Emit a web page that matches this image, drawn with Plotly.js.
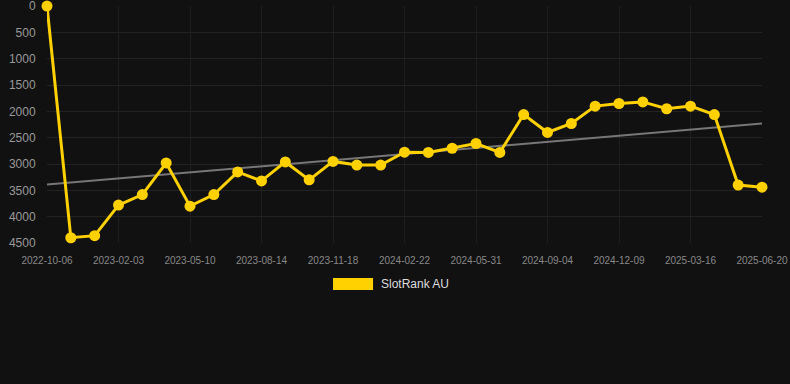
<!DOCTYPE html>
<html>
<head>
<meta charset="utf-8">
<script src="https://cdn.plot.ly/plotly-3.0.1.min.js"></script>
<style>
html,body{margin:0;padding:0;background:#111111;}
#chart{width:790px;height:384px;}
</style>
</head>
<body>
<div id="chart"></div>
<script>
// Rank values (lower is better), one per observation, evenly spaced
const rankValues = [0, 4400, 4360, 3780, 3580, 2980, 3800, 3580, 3150, 3320,
  2960, 3300, 2950, 3020, 3020, 2775, 2780, 2700, 2610, 2780,
  2060, 2400, 2230, 1900, 1850, 1820, 1950, 1900, 2060, 3400, 3440];
const pointIndex = rankValues.map((_, i) => i);
const tickPositions = [0, 3, 6, 9, 12, 15, 18, 21, 24, 27, 30];
const tickLabels = ["2022-10-06", "2023-02-03", "2023-05-10", "2023-08-14", "2023-11-18",
  "2024-02-22", "2024-05-31", "2024-09-04", "2024-12-09", "2025-03-16", "2025-06-20"];
const yTicks = [0, 500, 1000, 1500, 2000, 2500, 3000, 3500, 4000, 4500];
const trendX = [0, 30];
const trendY = [3390, 2230];
const seriesName = "SlotRank AU";

const gold = "#FFD100";

const traces = [
  {
    x: trendX, y: trendY, type: "scatter", mode: "lines",
    line: {color: "#777777", width: 2}, hoverinfo: "skip", showlegend: false
  },
  {
    x: pointIndex, y: rankValues, type: "scatter", mode: "lines+markers",
    name: seriesName,
    line: {color: gold, width: 3},
    marker: {color: gold, size: 11},
    cliponaxis: false, showlegend: false
  }
];

const layout = {
  width: 790, height: 384,
  paper_bgcolor: "#111111", plot_bgcolor: "#111111",
  margin: {l: 47, r: 28, t: 6, b: 141},
  font: {family: "Liberation Sans, Arial, sans-serif", color: "#999999", size: 12},
  showlegend: false,
  xaxis: {
    range: [0, 30], tickvals: tickPositions, ticktext: tickLabels,
    showgrid: true, gridcolor: "#1e1e1e", zeroline: false,
    tickfont: {size: 10, color: "#888888"},
    ticks: "outside", ticklen: 8, tickcolor: "rgba(0,0,0,0)", showline: false,
    ticklabeloverflow: "allow"
  },
  yaxis: {
    range: [4500, -2], tickvals: yTicks,
    showgrid: true, gridcolor: "#222222", zeroline: false,
    tickfont: {size: 12, color: "#999999"},
    ticks: "outside", ticklen: 8, tickcolor: "rgba(0,0,0,0)", showline: false,
    ticklabeloverflow: "allow"
  },
  shapes: [
    {type: "rect", xref: "paper", yref: "paper", x0: 0.4, x1: 0.456, y0: -0.198, y1: -0.148,
     fillcolor: gold, line: {width: 0}}
  ],
  annotations: [
    {xref: "paper", yref: "paper", x: 0.4643, y: -0.173, xanchor: "left", yanchor: "middle",
     text: seriesName, showarrow: false, font: {size: 12, color: "#dddddd"}}
  ]
};

Plotly.newPlot("chart", traces, layout, {displayModeBar: false, staticPlot: true});
</script>
</body>
</html>
